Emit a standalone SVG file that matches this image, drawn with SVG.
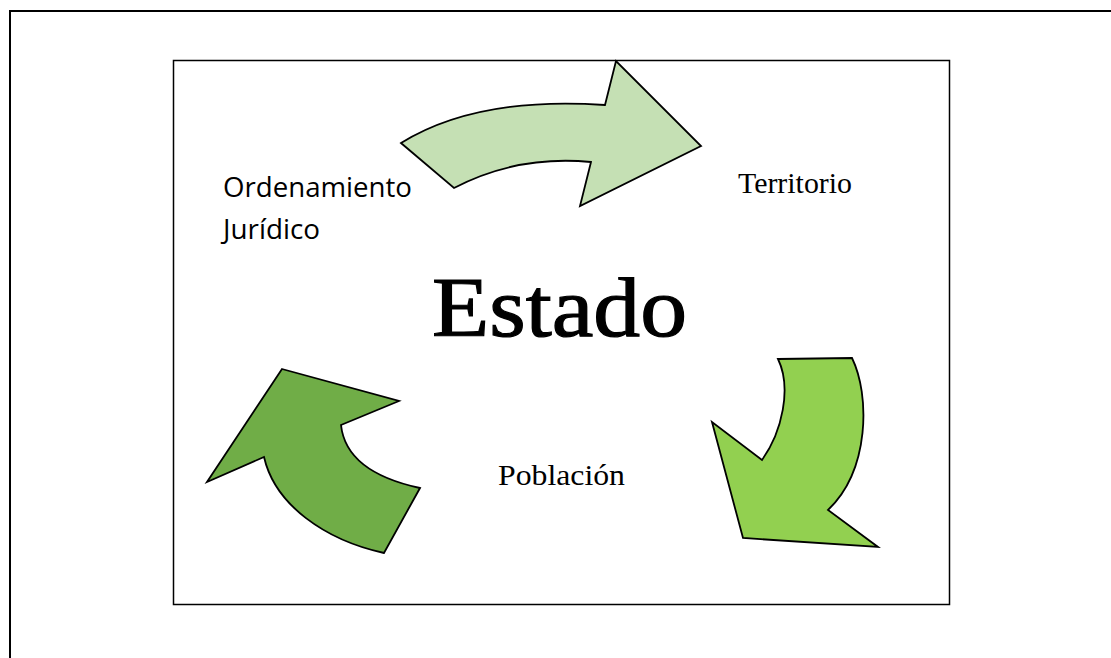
<svg xmlns="http://www.w3.org/2000/svg" width="1111" height="658" viewBox="0 0 1111 658">
<style>
.frame{fill:none;stroke:#000;stroke-width:2}
.box{fill:#fff;stroke:#000;stroke-width:1.5}
.arrow{stroke:#000;stroke-width:1.8;stroke-linejoin:miter}
.serif{font-family:"Liberation Serif","Times New Roman",serif;fill:#000}
.sans{font-family:"Open Sans","Noto Sans",sans-serif;fill:#000}
</style>
<rect width="1111" height="658" fill="#fff"/>
<path class="frame" d="M10,658 V11 H1111"/>
<g id="box"><rect class="box" x="173.5" y="60.5" width="776" height="544"/></g>
<g id="connectors">
<path id="arrow-top" class="arrow" fill="#C5E0B4" d="M401,143 Q477,96 605,105 L616,61 L701,146 L580,206 L591,162 Q517,155 454,188 Z"/>
<path id="arrow-right" class="arrow" fill="#92D050" d="M778,359 L852,358 C870,395 870,470 828,510 L878,547 L743,538 L712,422 L762,460 C782,432 792,388 778,359 Z"/>
<path id="arrow-left" class="arrow" fill="#70AD47" d="M282,369 L399,401 L341,425 Q346,472 420,488 L384,553 C325,540 275,505 264,457 L207,482 Z"/>
</g>
<g id="estado"><text class="serif" x="432" y="336" font-size="84" stroke="#000" stroke-width="1.2" textLength="255" lengthAdjust="spacingAndGlyphs">Estado</text></g>
<g id="territorio"><text class="serif" x="738" y="193" font-size="29.5" textLength="114" lengthAdjust="spacingAndGlyphs">Territorio</text></g>
<g id="poblacion"><text class="serif" x="498" y="485" font-size="30" textLength="127" lengthAdjust="spacingAndGlyphs">Población</text></g>
<g id="ordenamiento"><text class="sans" x="223" y="197" font-size="27" textLength="189" lengthAdjust="spacingAndGlyphs">Ordenamiento</text><text class="sans" x="223" y="239" font-size="27" textLength="97" lengthAdjust="spacingAndGlyphs">Jurídico</text></g>
</svg>
